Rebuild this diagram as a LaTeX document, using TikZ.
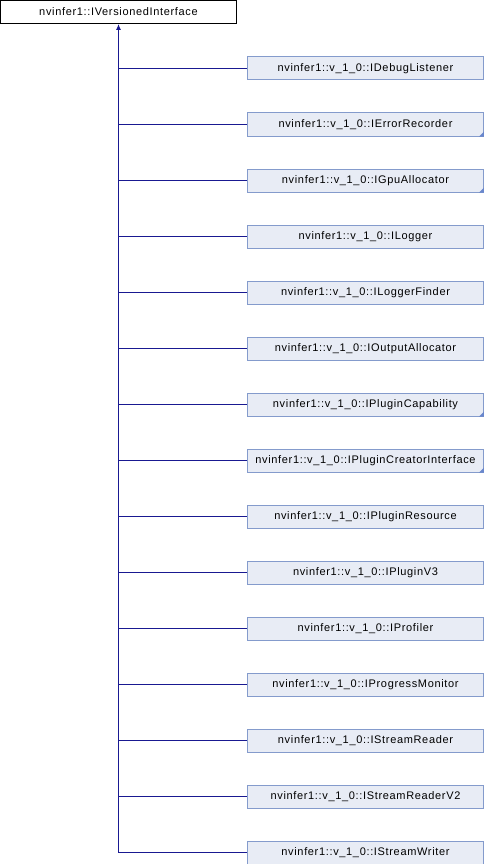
\documentclass[tikz,border=0pt]{standalone}
\usepackage{fontspec}
\setmainfont{Liberation Sans}
\newfontfamily\doxfont[LetterSpace=6]{Liberation Sans}
\usetikzlibrary{arrows.meta}

\definecolor{edgeblue}{RGB}{25,25,145}
\definecolor{boxfill}{RGB}{232,236,245}
\definecolor{boxline}{RGB}{132,155,204}
\definecolor{markblue}{RGB}{105,135,205}

\tikzset{every picture/.style={line width=1pt}}
\tikzset{
  rootbox/.style={draw=black,fill=white,minimum width=236pt,minimum height=23pt,inner sep=0pt,font=\doxfont\fontsize{11}{13}\selectfont},
  childbox/.style={draw=boxline,fill=boxfill,minimum width=236pt,minimum height=23pt,inner sep=0pt,font=\doxfont\fontsize{11}{13}\selectfont},
  inherit/.style={draw=edgeblue,line width=1pt},
  cornermark/.style={fill=markblue}
}

\begin{document}
\begin{tikzpicture}[x=1pt,y=1pt,yscale=-1,xscale=1]
    \useasboundingbox (0,0) rectangle (484,864);

    % Base class
    \node [rootbox] (versioned) at (118.5,12) {nvinfer1::IVersionedInterface};

    % Derived classes
    \node [childbox] (debuglistener) at (365.5,68.5) {nvinfer1::v\_1\_0::IDebugListener};
    \node [childbox] (errorrecorder) at (365.5,124.5) {nvinfer1::v\_1\_0::IErrorRecorder};
    \node [childbox] (gpuallocator) at (365.5,180.5) {nvinfer1::v\_1\_0::IGpuAllocator};
    \node [childbox] (logger) at (365.5,236.5) {nvinfer1::v\_1\_0::ILogger};
    \node [childbox] (loggerfinder) at (365.5,292.5) {nvinfer1::v\_1\_0::ILoggerFinder};
    \node [childbox] (outputallocator) at (365.5,348.5) {nvinfer1::v\_1\_0::IOutputAllocator};
    \node [childbox] (plugincapability) at (365.5,404.5) {nvinfer1::v\_1\_0::IPluginCapability};
    \node [childbox] (plugincreator) at (365.5,460.5) {nvinfer1::v\_1\_0::IPluginCreatorInterface};
    \node [childbox] (pluginresource) at (365.5,516.5) {nvinfer1::v\_1\_0::IPluginResource};
    \node [childbox] (pluginv3) at (365.5,572.5) {nvinfer1::v\_1\_0::IPluginV3};
    \node [childbox] (profiler) at (365.5,628.5) {nvinfer1::v\_1\_0::IProfiler};
    \node [childbox] (progressmonitor) at (365.5,684.5) {nvinfer1::v\_1\_0::IProgressMonitor};
    \node [childbox] (streamreader) at (365.5,740.5) {nvinfer1::v\_1\_0::IStreamReader};
    \node [childbox] (streamreaderv2) at (365.5,796.5) {nvinfer1::v\_1\_0::IStreamReaderV2};
    \node [childbox] (streamwriter) at (365.5,852.5) {nvinfer1::v\_1\_0::IStreamWriter};

    % Corner marks (classes with further derived classes)
    \fill [cornermark] (errorrecorder.south east) -- ++(-5,0) -- ++(5,-5) -- cycle;
    \fill [cornermark] (gpuallocator.south east) -- ++(-5,0) -- ++(5,-5) -- cycle;
    \fill [cornermark] (plugincapability.south east) -- ++(-5,0) -- ++(5,-5) -- cycle;
    \fill [cornermark] (plugincreator.south east) -- ++(-5,0) -- ++(5,-5) -- cycle;

    % Inheritance trunk
    \draw [inherit,{Latex[length=6pt,width=5pt]}-] (versioned.south) -- (versioned.south |- streamwriter.west);

    % Branches
    \draw [inherit] (versioned.south |- debuglistener.west) -- (debuglistener.west);
    \draw [inherit] (versioned.south |- errorrecorder.west) -- (errorrecorder.west);
    \draw [inherit] (versioned.south |- gpuallocator.west) -- (gpuallocator.west);
    \draw [inherit] (versioned.south |- logger.west) -- (logger.west);
    \draw [inherit] (versioned.south |- loggerfinder.west) -- (loggerfinder.west);
    \draw [inherit] (versioned.south |- outputallocator.west) -- (outputallocator.west);
    \draw [inherit] (versioned.south |- plugincapability.west) -- (plugincapability.west);
    \draw [inherit] (versioned.south |- plugincreator.west) -- (plugincreator.west);
    \draw [inherit] (versioned.south |- pluginresource.west) -- (pluginresource.west);
    \draw [inherit] (versioned.south |- pluginv3.west) -- (pluginv3.west);
    \draw [inherit] (versioned.south |- profiler.west) -- (profiler.west);
    \draw [inherit] (versioned.south |- progressmonitor.west) -- (progressmonitor.west);
    \draw [inherit] (versioned.south |- streamreader.west) -- (streamreader.west);
    \draw [inherit] (versioned.south |- streamreaderv2.west) -- (streamreaderv2.west);
    \draw [inherit] (versioned.south |- streamwriter.west) -- (streamwriter.west);

\end{tikzpicture}
\end{document}
